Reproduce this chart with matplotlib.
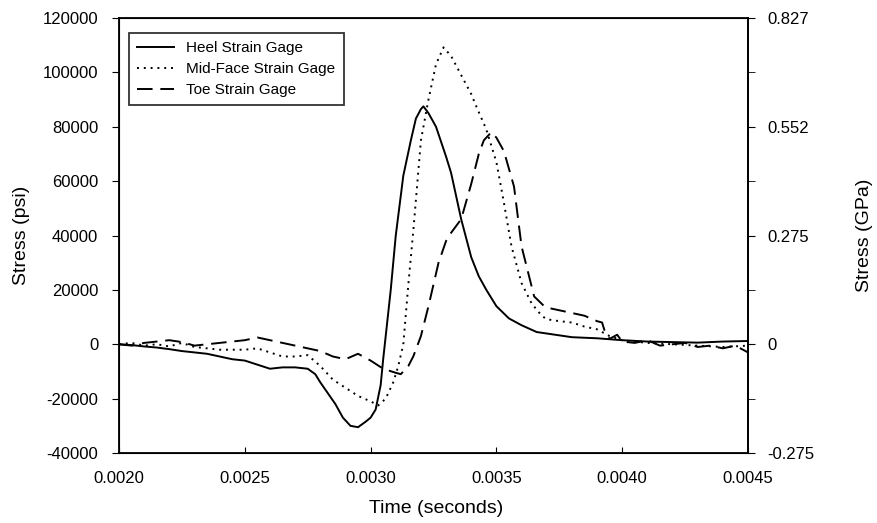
import matplotlib.pyplot as plt

plt.rcParams['font.family'] = ['Liberation Sans', 'DejaVu Sans']
plt.rcParams['axes.unicode_minus'] = False

# Heel strain gage (solid)
heel_t = [0.0020, 0.00205, 0.0021, 0.00215, 0.0022, 0.00225, 0.0023, 0.00235, 0.0024, 0.00245,
          0.0025, 0.00255, 0.0026, 0.00265, 0.0027, 0.00275, 0.00278, 0.0028, 0.00283, 0.00286,
          0.00289, 0.00292, 0.00295, 0.00298, 0.0030, 0.00302, 0.00304, 0.00305, 0.00308, 0.0031,
          0.00313, 0.00316, 0.00318, 0.0032, 0.00321, 0.00323, 0.00326, 0.0033, 0.00332, 0.00336,
          0.0034, 0.00343, 0.00346, 0.0035, 0.00355, 0.0036, 0.00366, 0.0038, 0.0039, 0.0040,
          0.0041, 0.0042, 0.0043, 0.0044, 0.0045]
heel_s = [0, -300, -800, -1200, -1800, -2500, -3000, -3500, -4500, -5500,
          -6000, -7500, -9000, -8500, -8500, -9000, -11000, -14000, -18000, -22000,
          -27000, -30000, -30500, -28500, -27000, -24000, -15000, -5500, 20000, 40000,
          62000, 75000, 83000, 86500, 87500, 85000, 80000, 69000, 63000, 46000,
          32000, 25000, 20000, 14000, 9500, 7000, 4500, 2600, 2200, 1500,
          1000, 800, 600, 1000, 1200]

# Mid-face strain gage (dotted)
mid_t = [0.0020, 0.00205, 0.0021, 0.00215, 0.0022, 0.00225, 0.0023, 0.00235, 0.0024, 0.00245,
         0.0025, 0.00255, 0.0026, 0.00265, 0.0027, 0.00275, 0.0028, 0.00285, 0.0029, 0.00295,
         0.0030, 0.00303, 0.00306, 0.00309, 0.00311, 0.00313, 0.00315, 0.00317, 0.0032, 0.00323,
         0.00326, 0.00329, 0.00332, 0.00336, 0.0034, 0.00342, 0.00346, 0.0035, 0.00353, 0.00356,
         0.0036, 0.00364, 0.00368, 0.0037, 0.00375, 0.0038, 0.00385, 0.0039, 0.00395, 0.0040,
         0.0041, 0.0042, 0.0043, 0.0044, 0.0045]
mid_s = [0, 500, -500, 0, -800, 500, -1000, -1500, -2000, -2000,
         -2000, -1500, -3000, -4500, -4500, -4000, -8000, -13000, -16000, -19000,
         -21000, -22500, -20000, -14000, -8000, 0, 22000, 42000, 75000, 90000,
         103000, 109200, 106000, 99000, 92000, 87500, 79000, 67000, 52000, 36000,
         22500, 15000, 10500, 9200, 8500, 8000, 6500, 5500, 3000, 1500,
         500, 0, -500, -1000, -500]

# Toe strain gage (dashed)
toe_t = [0.0020, 0.00205, 0.0021, 0.00215, 0.0022, 0.00225, 0.0023, 0.00235, 0.0024, 0.00245,
         0.0025, 0.00255, 0.0026, 0.00265, 0.0027, 0.00275, 0.0028, 0.00285, 0.0029, 0.00295,
         0.0030, 0.00305, 0.0031, 0.00312, 0.00315, 0.00317, 0.0032, 0.00323, 0.00327, 0.0033,
         0.00332, 0.00336, 0.0034, 0.00343, 0.00345, 0.00348, 0.0035, 0.00353, 0.00357, 0.0036,
         0.00365, 0.00369, 0.0037, 0.00375, 0.0038, 0.00385, 0.0039, 0.00392, 0.00393, 0.00395,
         0.00398, 0.0040, 0.00405, 0.0041, 0.00415, 0.0042, 0.00425, 0.0043, 0.00435, 0.0044,
         0.00445, 0.0045]
toe_s = [0, -500, 500, 1000, 1500, 800, -500, 0, 500, 1000,
         1500, 2500, 1500, 500, -500, -1500, -2500, -4500, -5500, -3500,
         -6000, -9000, -10500, -11000, -8000, -4400, 3000, 14000, 30000, 38000,
         41000, 46000, 59000, 70000, 75000, 78000, 76000, 71000, 58000, 36000,
         17600, 14000, 13500, 12500, 11500, 10500, 8500, 8000, 5000, 2000,
         3500, 1000, 500, 1500, -500, 0, 500, -1000, -500, -1500,
         -500, -3000]

psi_ticks = [-40000, -20000, 0, 20000, 40000, 60000, 80000, 100000, 120000]
gpa_ticks = [-40000, 0, 40000, 80000, 120000]
gpa_labels = ['-0.275', '0', '0.275', '0.552', '0.827']
time_ticks = [0.0020, 0.0025, 0.0030, 0.0035, 0.0040, 0.0045]

fig = plt.figure(figsize=(8.77, 5.23), dpi=100)
ax = fig.add_axes([0.1357, 0.1338, 0.7172, 0.8318])

ax.plot(heel_t, heel_s, color='black', lw=1.4, label='Heel Strain Gage')
ax.plot(mid_t, mid_s, color='black', lw=1.4, ls=(0, (1, 2.5)), label='Mid-Face Strain Gage')
ax.plot(toe_t, toe_s, color='black', lw=1.4, ls=(0, (8, 4)), label='Toe Strain Gage')

ax.set_xlim(0.0020, 0.0045)
ax.set_ylim(-40000, 120000)
ax.set_xticks(time_ticks)
ax.set_xticklabels(['%.4f' % t for t in time_ticks])
ax.set_yticks(psi_ticks)
ax.tick_params(axis='x', direction='in', length=4, labelsize=12, pad=13)
ax.tick_params(axis='y', direction='out', length=5, labelsize=12, pad=10)
ax.set_xlabel('Time (seconds)', fontsize=14)
ax.set_ylabel('Stress (psi)', fontsize=14)
ax.xaxis.set_label_coords(0.504, -0.108)
ax.yaxis.set_label_coords(-0.142, 0.5)
for sp in ax.spines.values():
    sp.set_linewidth(1.3)

ax2 = ax.twinx()
ax2.set_ylim(-40000, 120000)
ax2.set_yticks(gpa_ticks)
ax2.set_yticklabels(gpa_labels)
ax2.set_yticks(psi_ticks, minor=True)
ax2.tick_params(axis='y', which='both', direction='out', length=5, labelsize=12, pad=9)
ax2.set_ylabel('Stress (GPa)', fontsize=14)
ax2.yaxis.set_label_coords(1.172, 0.5)
ax2.spines['right'].set_linewidth(1.3)

leg = ax.legend(loc='upper left', bbox_to_anchor=(0.016, 0.966), borderaxespad=0,
                fontsize=11, frameon=True, fancybox=False, edgecolor='black',
                handlelength=2.4, handletextpad=0.8, labelspacing=0.45, borderpad=0.55)
leg.get_frame().set_linewidth(1.3)

fig.savefig('out.png', dpi=100)
